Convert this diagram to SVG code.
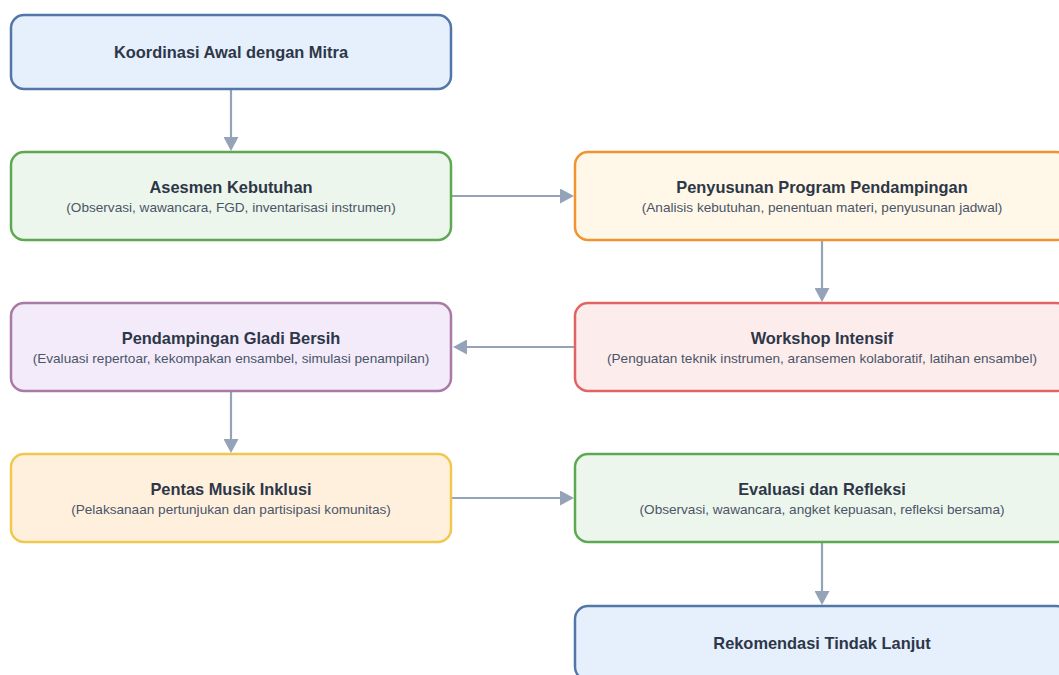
<svg xmlns="http://www.w3.org/2000/svg" width="1059" height="675" viewBox="0 0 1059 675">
<style>
.box{stroke-width:2.5}
.t{font-family:"Liberation Sans",Arial,sans-serif;font-weight:bold;font-size:16.4px;fill:#2d3748;text-anchor:middle}
.s{font-family:"Liberation Sans",Arial,sans-serif;font-size:13.6px;fill:#4a5568;text-anchor:middle}
.blue{fill:#e6effc;stroke:#5276a8}
.green{fill:#edf6ec;stroke:#5ea852}
.orange{fill:#fff7e7;stroke:#f19333}
.red{fill:#fcecec;stroke:#e06464}
.purple{fill:#f3ebfa;stroke:#a97aa3}
.yellow{fill:#fff0de;stroke:#f0c850}
.c{stroke:#94a3b8;stroke-width:2.2;fill:none;marker-end:url(#ah)}
</style>
<defs>
<marker id="ah" viewBox="0 0 14 15" markerWidth="14" markerHeight="15" refX="0" refY="7.5" orient="auto" markerUnits="userSpaceOnUse">
<path d="M0,0 L14,7.5 L0,15 z" fill="#94a3b8"/>
</marker>
</defs>
<rect width="1059" height="675" fill="#ffffff"/>
<g id="connectors">
<line class="c" x1="231" y1="90" x2="231" y2="137"/>
<line class="c" x1="452" y1="196" x2="560" y2="196"/>
<line class="c" x1="822" y1="241" x2="822" y2="288"/>
<line class="c" x1="574" y1="347" x2="467" y2="347"/>
<line class="c" x1="231" y1="392" x2="231" y2="439"/>
<line class="c" x1="452" y1="498" x2="560" y2="498"/>
<line class="c" x1="822" y1="543" x2="822" y2="591"/>
</g>
<g id="n1">
<rect class="box blue" x="11" y="15" width="440" height="74" rx="13"/>
<text class="t" x="231" y="57.5">Koordinasi Awal dengan Mitra</text>
</g>
<g id="n2">
<rect class="box green" x="11" y="152" width="440" height="88" rx="13"/>
<text class="t" x="231" y="192.5">Asesmen Kebutuhan</text>
<text class="s" x="231" y="211.5">(Observasi, wawancara, FGD, inventarisasi instrumen)</text>
</g>
<g id="n3">
<rect class="box orange" x="575" y="152" width="494" height="88" rx="13"/>
<text class="t" x="822" y="192.5">Penyusunan Program Pendampingan</text>
<text class="s" x="822" y="211.5">(Analisis kebutuhan, penentuan materi, penyusunan jadwal)</text>
</g>
<g id="n4">
<rect class="box red" x="575" y="303" width="494" height="88" rx="13"/>
<text class="t" x="822" y="343.5">Workshop Intensif</text>
<text class="s" x="822" y="362.5">(Penguatan teknik instrumen, aransemen kolaboratif, latihan ensambel)</text>
</g>
<g id="n5">
<rect class="box purple" x="11" y="303" width="440" height="88" rx="13"/>
<text class="t" x="231" y="343.5">Pendampingan Gladi Bersih</text>
<text class="s" x="231" y="362.5">(Evaluasi repertoar, kekompakan ensambel, simulasi penampilan)</text>
</g>
<g id="n6">
<rect class="box yellow" x="11" y="454" width="440" height="88" rx="13"/>
<text class="t" x="231" y="494.5">Pentas Musik Inklusi</text>
<text class="s" x="231" y="513.5">(Pelaksanaan pertunjukan dan partisipasi komunitas)</text>
</g>
<g id="n7">
<rect class="box green" x="575" y="454" width="494" height="88" rx="13"/>
<text class="t" x="822" y="494.5">Evaluasi dan Refleksi</text>
<text class="s" x="822" y="513.5">(Observasi, wawancara, angket kepuasan, refleksi bersama)</text>
</g>
<g id="n8">
<rect class="box blue" x="575" y="606" width="494" height="74" rx="13"/>
<text class="t" x="822" y="648.5">Rekomendasi Tindak Lanjut</text>
</g>
</svg>
